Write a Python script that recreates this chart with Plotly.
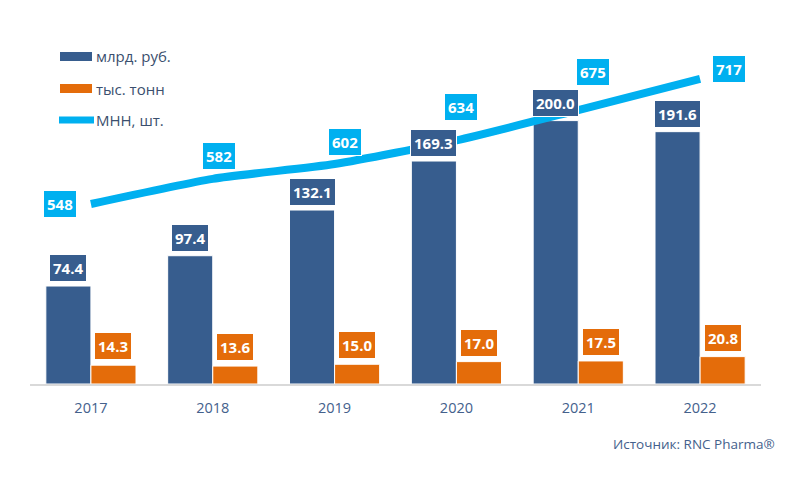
import plotly.graph_objects as go

years = ["2017", "2018", "2019", "2020", "2021", "2022"]
rub_bn = [74.4, 97.4, 132.1, 169.3, 200.0, 191.6]
tons_k = [14.3, 13.6, 15.0, 17.0, 17.5, 20.8]
inn_count = [548, 582, 602, 634, 675, 717]

series_names = ["млрд. руб.", "тыс. тонн", "МНН, шт."]
source_text = "Источник: RNC Pharma®"

BLUE = "#375D8E"
ORANGE = "#E46C0A"
CYAN = "#00B0F0"
TEXT = "#44618C"
FONT = "Open Sans"

# page body margin offset in the screenshot
OFF = 8
W, H = 792, 481
# desired plot area in screenshot pixels
X0, X1, Y0, Y1 = 30, 761, 40, 384
L = X0 - OFF
R = W - (X1 - OFF)
T = Y0 - OFF
B = H - (Y1 - OFF)
PW = X1 - X0
PH = Y1 - Y0

def px(x):
    return (x - X0) / PW

def py(y):
    return (Y1 - y) / PH

fig = go.Figure()
fig.add_trace(go.Bar(x=years, y=rub_bn, name=series_names[0], marker=dict(color=BLUE, line=dict(color="white", width=1)), showlegend=False))
fig.add_trace(go.Bar(x=years, y=tons_k, name=series_names[1], marker=dict(color=ORANGE, line=dict(color="white", width=1)), showlegend=False))
fig.add_trace(go.Scatter(x=years, y=inn_count, name=series_names[2], yaxis="y2", mode="lines",
                         line=dict(color=CYAN, width=8, shape="spline", smoothing=0.6), showlegend=False))

# annotations on a category axis: position by category index
annotations = []
for i, v in enumerate(rub_bn):
    annotations.append(dict(x=i, y=v, xref="x", yref="y", xshift=-22.5, yshift=18, showarrow=False,
                            text=f"<b>{v:.1f}</b>", font=dict(family=FONT, size=15, color="white"),
                            bgcolor=BLUE, bordercolor="white", borderwidth=1, borderpad=3))
for i, v in enumerate(tons_k):
    annotations.append(dict(x=i, y=v, xref="x", yref="y", xshift=22.5, yshift=19, showarrow=False,
                            text=f"<b>{v:.1f}</b>", font=dict(family=FONT, size=15, color="white"),
                            bgcolor=ORANGE, bordercolor="white", borderwidth=1, borderpad=3))
line_label_offsets = [(-31, 0), (6, 23), (10, 22), (5, 33), (15, 38), (29, 10)]
for i, (v, (dx, dy)) in enumerate(zip(inn_count, line_label_offsets)):
    annotations.append(dict(x=i, y=v, xref="x", yref="y2", xshift=dx, yshift=dy, showarrow=False,
                            text=f"<b>{v}</b>", font=dict(family=FONT, size=15, color="white"),
                            bgcolor=CYAN, bordercolor="white", borderwidth=1, borderpad=3))

# manual legend
shapes = [
    dict(type="rect", xref="paper", yref="paper", x0=px(60), x1=px(92), y0=py(61), y1=py(52),
         fillcolor=BLUE, line=dict(width=0)),
    dict(type="rect", xref="paper", yref="paper", x0=px(60), x1=px(92), y0=py(93), y1=py(84),
         fillcolor=ORANGE, line=dict(width=0)),
    dict(type="line", xref="paper", yref="paper", x0=px(59), x1=px(94), y0=py(120), y1=py(120),
         line=dict(color=CYAN, width=7)),
]
for name, yy in zip(series_names, [56, 89, 120]):
    annotations.append(dict(x=px(94), y=py(yy), xref="paper", yref="paper", xanchor="left", yanchor="middle",
                            showarrow=False, text=name, font=dict(family=FONT, size=15, color="#3B4F6E")))

annotations.append(dict(x=px(777), y=py(444), xref="paper", yref="paper", xanchor="right", yanchor="middle",
                        showarrow=False, text=source_text, font=dict(family=FONT, size=13.5, color=TEXT)))

fig.update_layout(
    width=W, height=H,
    margin=dict(l=L, r=R, t=T, b=B),
    paper_bgcolor="white", plot_bgcolor="white",
    barmode="group", bargap=0.26, bargroupgap=0,
    font=dict(family=FONT, color=TEXT),
    xaxis=dict(type="category", range=[-0.5, len(years) - 0.5], showline=True, linecolor="#D9D9D9", linewidth=2,
               showgrid=False, ticks="outside", ticklen=10, tickcolor="rgba(0,0,0,0)",
               tickfont=dict(family=FONT, size=14.5, color=TEXT)),
    yaxis=dict(range=[0, 261.2], showticklabels=False, showgrid=False, zeroline=False, showline=False),
    yaxis2=dict(range=[304.6, 769.7], overlaying="y", showticklabels=False, showgrid=False, zeroline=False, showline=False),
    annotations=annotations,
    shapes=shapes,
    showlegend=False,
)

fig.write_html("out.html")
